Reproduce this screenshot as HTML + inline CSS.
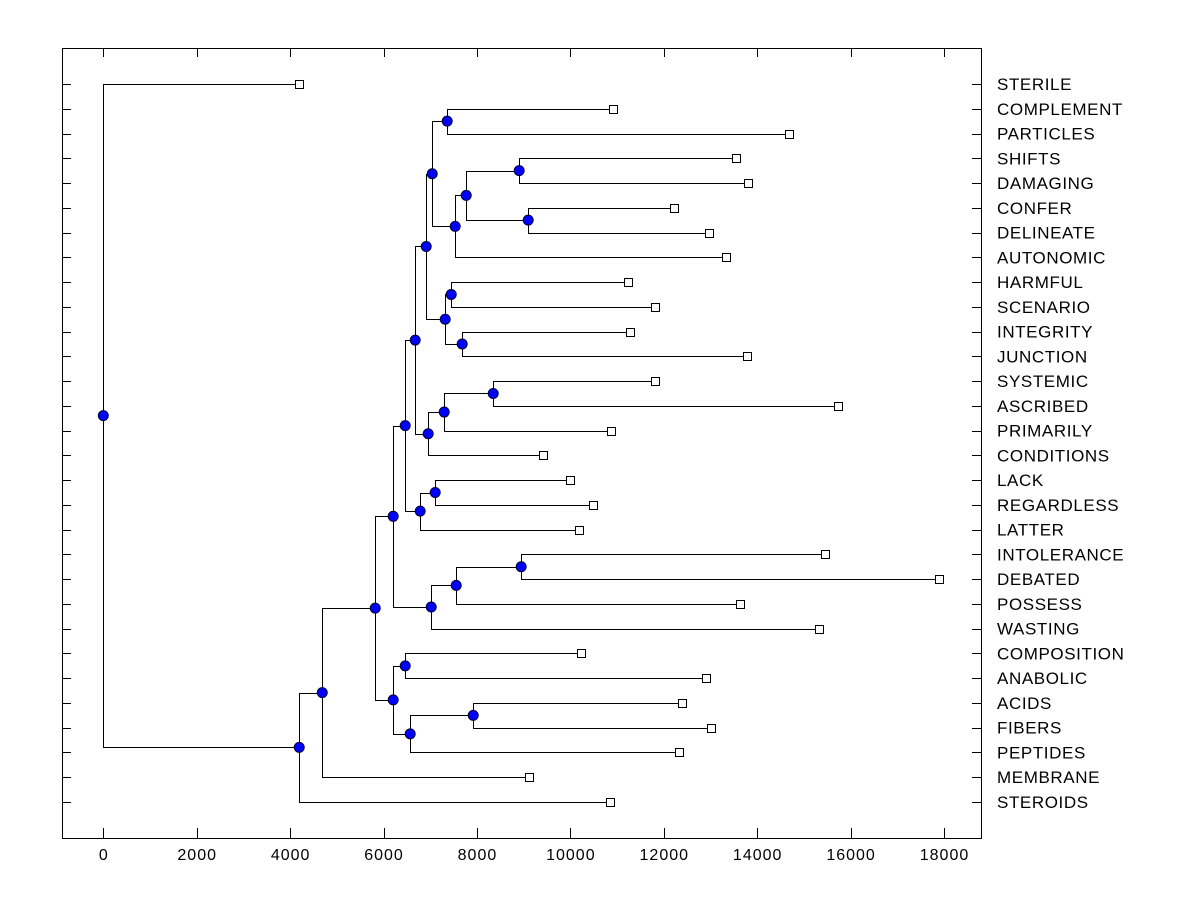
<!DOCTYPE html>
<html><head><meta charset="utf-8"><style>
html,body{margin:0;padding:0;background:#fff;}
svg{display:block;font-family:"Liberation Sans",Arial,sans-serif;}
</style></head><body>
<svg id="chart" width="1200" height="900"></svg>
<script>
const labels = ["STERILE","COMPLEMENT","PARTICLES","SHIFTS","DAMAGING","CONFER","DELINEATE","AUTONOMIC","HARMFUL","SCENARIO","INTEGRITY","JUNCTION","SYSTEMIC","ASCRIBED","PRIMARILY","CONDITIONS","LACK","REGARDLESS","LATTER","INTOLERANCE","DEBATED","POSSESS","WASTING","COMPOSITION","ANABOLIC","ACIDS","FIBERS","PEPTIDES","MEMBRANE","STEROIDS"];
const leafValues = [4195,10916,14683,13549,13806,12222,12971,13335,11237,11815,11280,13784,11815,15732,10873,9418,9996,10488,10188,15454,17894,13634,15325,10231,12907,12393,13014,12329,9118,10852];
// merges: [childA, childB, height]; leaves are indices, internal nodes "n<k>"
const merges = [
 [1,2,7363],[3,4,8904],[5,6,9097],["n1","n2",7770],["n3",7,7534],["n0","n4",7042],
 [8,9,7449],[10,11,7684],["n6","n7",7320],["n5","n8",6914],
 [12,13,8348],["n10",14,7299],["n11",15,6956],["n9","n12",6678],
 [16,17,7106],["n14",18,6785],["n13","n15",6464],
 [19,20,8947],["n17",21,7556],["n18",22,7021],["n16","n19",6207],
 [23,24,6464],[25,26,7920],["n22",27,6571],["n21","n23",6207],
 ["n20","n24",5822],["n25",28,4688],["n26",29,4195],[0,"n27",0]
];
const xTicks = [0,2000,4000,6000,8000,10000,12000,14000,16000,18000];

const NS="http://www.w3.org/2000/svg";
const svg=document.getElementById('chart');
const L=62,R=981,T=48,B=838;
const xs=v=>103.3+v*(944-103.3)/18000;
const ys=i=>84+i*(802-84)/(labels.length-1);
function mk(tag,attrs,parent){const e=document.createElementNS(NS,tag);for(const k in attrs)e.setAttribute(k,attrs[k]);(parent||svg).appendChild(e);return e;}

const frame=mk('rect',{x:L+0.5,y:T+0.5,width:R-L,height:B-T,fill:'none',stroke:'#000','stroke-width':1});



xTicks.forEach(t=>{
  const x=Math.round(xs(t))+0.5;
  const a=mk('line',{x1:x,x2:x,y1:B,y2:B-10,stroke:'#000'});
  
  
  const b=mk('line',{x1:x,x2:x,y1:T,y2:T+9,stroke:'#000'});
  
  
  const tx=mk('text',{x:xs(t)+0.5,y:860,'text-anchor':'middle','font-size':16,'letter-spacing':1,fill:'#000'});
  tx.textContent=t;
  
  
});

labels.forEach((lab,i)=>{
  const y=Math.round(ys(i))+0.5;
  const a=mk('line',{x1:L,x2:L+9,y1:y,y2:y,stroke:'#000'});
  
  
  const b=mk('line',{x1:R-9,x2:R,y1:y,y2:y,stroke:'#000'});
  
  
  const tx=mk('text',{x:997,y:ys(i)+6,'font-size':17,'letter-spacing':0.6,fill:'#000'});
  tx.textContent=lab;
  
  
});

const nodes={};
function pos(c){ if(typeof c==='number') return {x:xs(leafValues[c]),y:ys(c),leaf:true}; return nodes[c]; }
const lineG=mk('g',{});


const dotG=mk('g',{});


merges.forEach((m,k)=>{
  const a=pos(m[0]),b=pos(m[1]);const x=xs(m[2]);
  const y=(a.y+b.y)/2;
  nodes['n'+k]={x:x,y:y};
  const p=mk('path',{d:`M${a.x},${Math.round(a.y)+0.5}H${Math.round(x)+0.5}V${Math.round(b.y)+0.5}H${b.x}`,fill:'none',stroke:'#000','stroke-width':1},lineG);
  
  
  const c=mk('circle',{cx:x,cy:y,r:5,fill:'#0000ff',stroke:'#000033','stroke-width':1},dotG);
  
  
});
leafValues.forEach((v,i)=>{
  const r=mk('rect',{x:Math.round(xs(v))-4+0.5,y:Math.round(ys(i))-4+0.5,width:8,height:8,fill:'#fff',stroke:'#000'},dotG);
  
  
});
</script>
</body></html>
